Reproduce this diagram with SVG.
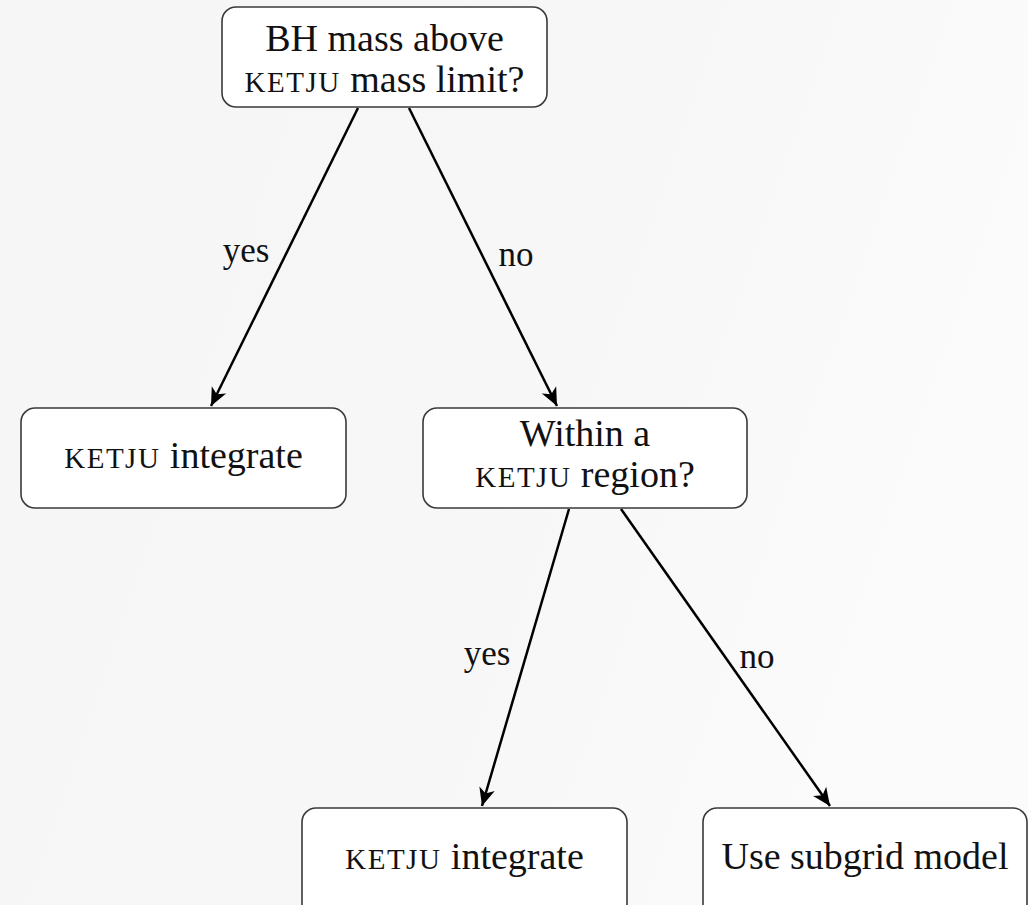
<svg xmlns="http://www.w3.org/2000/svg" width="1028" height="905" viewBox="0 0 1028 905">
  <defs>
    <linearGradient id="bg" x1="0" y1="0" x2="1" y2="0.3">
      <stop offset="0" stop-color="#f6f6f6"/>
      <stop offset="0.6" stop-color="#f7f7f7"/>
      <stop offset="1" stop-color="#fbfbfb"/>
    </linearGradient>
    <marker id="arrow" markerUnits="userSpaceOnUse" markerWidth="24" markerHeight="20" viewBox="-20 -10 24 20" refX="0" refY="0" orient="auto">
      <path d="M0,0 L-18,-8 L-13,0 L-18,8 Z" fill="#000"/>
    </marker>
    <style>
      .box { fill: #ffffff; stroke: #3a3a3a; stroke-width: 1.6; }
      .txt { font-size: 38px; fill: #111; text-anchor: middle; }
      .sc { font-size: 29px; letter-spacing: 1.5px; }
      .edge { stroke: #000; stroke-width: 2.5; fill: none; marker-end: url(#arrow); }
      .lbl { font-size: 35px; fill: #111; text-anchor: middle; }
    </style>
  </defs>

  <rect x="0" y="0" width="1028" height="905" fill="url(#bg)"/>

  <g font-family="Liberation Serif, serif">
    <!-- connectors -->
    <g id="connectors">
      <line class="edge" x1="358" y1="108" x2="211" y2="406"/>
      <line class="edge" x1="409" y1="108" x2="557" y2="406"/>
      <line class="edge" x1="569" y1="509" x2="482" y2="806"/>
      <line class="edge" x1="621" y1="509" x2="830" y2="806"/>
      <text class="lbl" x="246" y="262">yes</text>
      <text class="lbl" x="516" y="266">no</text>
      <text class="lbl" x="487" y="665">yes</text>
      <text class="lbl" x="757" y="668">no</text>
    </g>

    <!-- decision: mass limit -->
    <g id="node-mass">
      <rect class="box" x="222" y="7" width="325" height="100" rx="14"/>
      <text class="txt" x="384.5" y="51">BH mass above</text>
      <text class="txt" x="384.5" y="92"><tspan class="sc">KETJU</tspan> mass limit?</text>
    </g>

    <!-- result: integrate (left) -->
    <g id="node-integrate-1">
      <rect class="box" x="21" y="408" width="325" height="100" rx="14"/>
      <text class="txt" x="183.5" y="468"><tspan class="sc">KETJU</tspan> integrate</text>
    </g>

    <!-- decision: region -->
    <g id="node-region">
      <rect class="box" x="423" y="408" width="324" height="100" rx="14"/>
      <text class="txt" x="585" y="446">Within a</text>
      <text class="txt" x="585" y="487"><tspan class="sc">KETJU</tspan> region?</text>
    </g>

    <!-- result: integrate (bottom) -->
    <g id="node-integrate-2">
      <rect class="box" x="302" y="808" width="325" height="110" rx="14"/>
      <text class="txt" x="464.5" y="869"><tspan class="sc">KETJU</tspan> integrate</text>
    </g>

    <!-- result: subgrid -->
    <g id="node-subgrid">
      <rect class="box" x="703" y="808" width="324" height="110" rx="14"/>
      <text class="txt" x="865" y="869">Use subgrid model</text>
    </g>
  </g>
</svg>
